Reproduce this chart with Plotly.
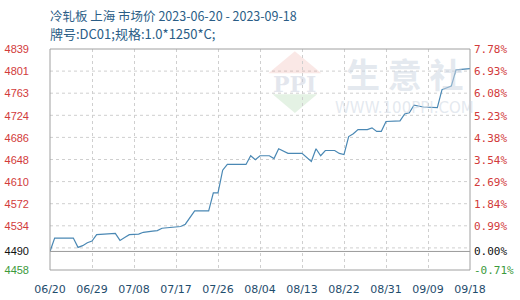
import plotly.graph_objects as go

# ---- data ----
dates = ["2023-06-20","2023-06-21","2023-06-25","2023-06-26","2023-06-27","2023-06-28",
         "2023-06-29","2023-06-30","2023-07-04","2023-07-05","2023-07-06","2023-07-07",
         "2023-07-09","2023-07-10","2023-07-12","2023-07-13","2023-07-14","2023-07-16",
         "2023-07-18","2023-07-19","2023-07-20","2023-07-21","2023-07-24","2023-07-25",
         "2023-07-26","2023-07-27","2023-07-28","2023-08-01","2023-08-02","2023-08-03",
         "2023-08-04","2023-08-06","2023-08-07","2023-08-08","2023-08-10","2023-08-13",
         "2023-08-15","2023-08-16","2023-08-17","2023-08-18","2023-08-20","2023-08-21",
         "2023-08-22","2023-08-23","2023-08-24","2023-08-25","2023-08-27","2023-08-28",
         "2023-08-29","2023-08-30","2023-08-31","2023-09-03","2023-09-04","2023-09-05",
         "2023-09-06","2023-09-08","2023-09-11","2023-09-12","2023-09-14","2023-09-15",
         "2023-09-18"]
prices = [4490, 4513, 4513, 4497, 4500, 4505,
          4508, 4519, 4521, 4509, 4514, 4519,
          4520, 4523, 4525, 4526, 4530, 4531,
          4533, 4537, 4548, 4560, 4560, 4591,
          4591, 4630, 4640, 4640, 4655, 4648,
          4655, 4655, 4650, 4667, 4659, 4659,
          4645, 4667, 4655, 4664, 4664, 4659,
          4657, 4688, 4693, 4700, 4700, 4703,
          4697, 4697, 4714, 4715, 4727, 4729,
          4742, 4739, 4738, 4769, 4775, 4803,
          4805]

base_price = 4490
y_min, y_max = 4458, 4839
left_labels = [4839, 4801, 4763, 4724, 4686, 4648, 4610, 4572, 4534, 4490, 4458]
right_labels = ["7.78%", "6.93%", "6.08%", "5.23%", "4.38%", "3.54%", "2.69%",
                "1.84%", "0.99%", "0.00%", "-0.71%"]
x_tick_dates = ["2023-06-20","2023-06-29","2023-07-08","2023-07-17","2023-07-26",
                "2023-08-04","2023-08-13","2023-08-22","2023-08-31","2023-09-09","2023-09-18"]
x_tick_text = ["06/20","06/29","07/08","07/17","07/26","08/04","08/13","08/22",
               "08/31","09/09","09/18"]
title1 = "冷轧板 上海 市场价 2023-06-20 - 2023-09-18"
title2 = "牌号:DC01;规格:1.0*1250*C;"

RED = "#d23b3b"
GREEN = "#3c9a3c"
BLACK = "#111111"

def color_for(v):
    if v > base_price:
        return RED
    if v < base_price:
        return GREEN
    return BLACK

left_text = ['<span style="color:%s">%d</span>' % (color_for(v), v) for v in left_labels]
right_vals = [(v - base_price) / base_price * 100 for v in left_labels]
right_text = ['<span style="color:%s">%s</span>' % (color_for(v), t)
              for v, t in zip(left_labels, right_labels)]
y2_range = [(y_min - base_price) / base_price * 100, (y_max - base_price) / base_price * 100]

fig = go.Figure()
fig.add_trace(go.Scatter(x=dates, y=prices, mode="lines",
                         line=dict(color="#4a88b4", width=1.2),
                         hoverinfo="skip", showlegend=False))
fig.add_trace(go.Scatter(x=[dates[0]], y=[0], yaxis="y2", mode="markers",
                         marker=dict(opacity=0), hoverinfo="skip", showlegend=False))

# horizontal dashed grid
n_grid = 10
step = (y_max - y_min) / n_grid
shapes = []
for k in range(1, n_grid):
    gy = y_min + k * step
    shapes.append(dict(type="line", xref="paper", x0=0, x1=1, yref="y", y0=gy, y1=gy,
                       line=dict(color="#cfcfcf", width=1, dash="dot"), layer="below"))
# solid base line
shapes.append(dict(type="line", xref="paper", x0=0, x1=1, yref="y", y0=base_price, y1=base_price,
                   line=dict(color="#9a9a9a", width=1), layer="above"))
# plot border
shapes.append(dict(type="rect", xref="paper", yref="paper", x0=0, x1=1, y0=0, y1=1,
                   line=dict(color="#a0a0a0", width=1), layer="above"))
# watermark logo (faint)
shapes.append(dict(type="path", xref="paper", yref="paper",
                   path="M 0.583 0.99 L 0.52 0.89 L 0.646 0.89 Z",
                   fillcolor="rgba(232,150,140,0.22)", line=dict(width=0), layer="below"))
shapes.append(dict(type="path", xref="paper", yref="paper",
                   path="M 0.583 0.71 L 0.53 0.795 L 0.636 0.795 Z",
                   fillcolor="rgba(130,195,130,0.22)", line=dict(width=0), layer="below"))

annotations = [
    dict(text=title1, xref="paper", yref="paper", x=0, y=1, yshift=34, xanchor="left",
         yanchor="middle", showarrow=False, xshift=-2,
         font=dict(family="Noto Sans CJK SC", size=12.5, color="#2a5d86")),
    dict(text=title2, xref="paper", yref="paper", x=0, y=1, yshift=16, xanchor="left",
         yanchor="middle", showarrow=False, xshift=-2,
         font=dict(family="Noto Sans CJK SC", size=13, color="#2a5d86")),
    dict(text="<b>生 意 社</b>", xref="paper", yref="paper", x=0.845, y=0.89, xanchor="center",
         yanchor="middle", showarrow=False,
         font=dict(family="Noto Sans CJK SC", size=34, color="rgba(205,214,226,0.55)")),
    dict(text="WWW.100PPI.COM", xref="paper", yref="paper", x=0.845, y=0.735, xanchor="center",
         yanchor="middle", showarrow=False,
         font=dict(family="DejaVu Sans", size=15, color="rgba(205,214,226,0.55)")),
    dict(text="<b>PPI</b>", xref="paper", yref="paper", x=0.583, y=0.84, xanchor="center",
         yanchor="middle", showarrow=False,
         font=dict(family="DejaVu Serif", size=22, color="rgba(200,205,220,0.5)")),
]

fig.update_layout(
    width=520, height=300,
    margin=dict(l=50, r=50, t=49, b=30, autoexpand=False),
    paper_bgcolor="white", plot_bgcolor="white",
    showlegend=False,
    shapes=shapes, annotations=annotations,
    xaxis=dict(type="date", range=[dates[0], dates[-1]],
               tickvals=x_tick_dates, ticktext=x_tick_text,
               showgrid=True, gridcolor="#cfcfcf", griddash="dot", gridwidth=1,
               zeroline=False, showline=False, ticks="", automargin=False,
               tickfont=dict(family="DejaVu Sans", size=11, color="#1f4d6d"),
               ticklabelstandoff=11),
    yaxis=dict(range=[y_min, y_max], tickvals=left_labels, ticktext=left_text,
               showgrid=False, zeroline=False, showline=False, ticks="", automargin=False,
               tickfont=dict(family="Liberation Sans", size=11),
               ticklabelstandoff=20),
    yaxis2=dict(range=y2_range, overlaying="y", side="right",
                tickvals=right_vals, ticktext=right_text, automargin=False,
                showgrid=False, zeroline=False, showline=False, ticks="",
                tickfont=dict(family="DejaVu Sans Mono", size=11),
                ticklabelstandoff=3),
)

fig.write_html("out.html")
